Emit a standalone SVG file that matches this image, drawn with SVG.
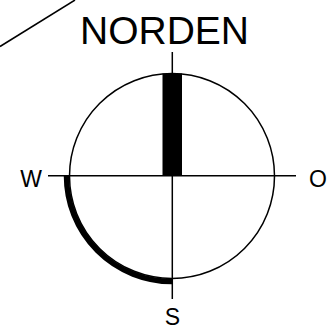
<svg xmlns="http://www.w3.org/2000/svg" width="327" height="326" viewBox="0 0 327 326">
<style>
.lbl{font-family:"Liberation Sans",Arial,Helvetica,sans-serif;fill:#000;text-anchor:middle}
.thin{stroke:#000;stroke-width:1.5;fill:none}
</style>
<rect width="327" height="326" fill="#fff"/>
<g id="diagonal"><line class="thin" x1="0" y1="46.5" x2="75" y2="0"/></g>
<g id="compass">
<circle class="thin" cx="172" cy="176" r="102.5"/>
<rect x="162.5" y="73.5" width="19.5" height="102.5" fill="#000"/>
<line class="thin" x1="172.3" y1="52" x2="172.3" y2="299"/>
<line class="thin" x1="48" y1="175.8" x2="296" y2="175.8"/>
<path d="M66.5 176 A105.5 105.5 0 0 0 172 281.5" fill="none" stroke="#000" stroke-width="5.5"/>
</g>
<g id="labels">
<text class="lbl" x="164.5" y="44" font-size="39">NORDEN</text>
<text class="lbl" x="31" y="186.5" font-size="23">W</text>
<text class="lbl" x="318" y="187" font-size="23">O</text>
<text class="lbl" x="172.5" y="324.5" font-size="23">S</text>
</g>
</svg>
